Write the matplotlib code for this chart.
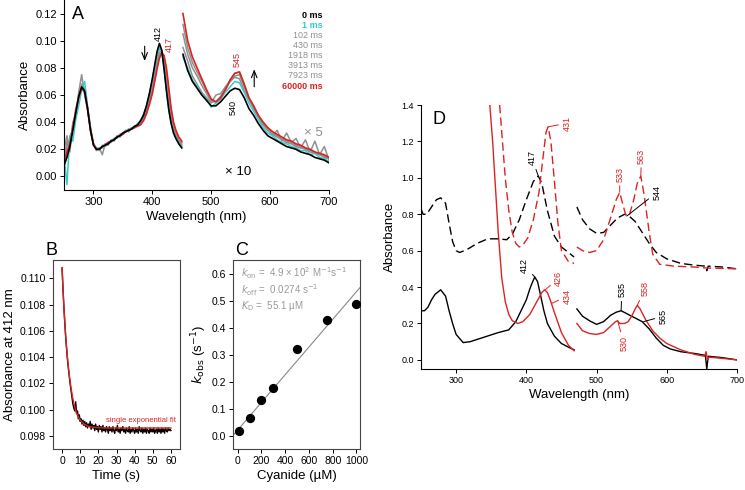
import matplotlib
matplotlib.use('Agg')
import matplotlib.pyplot as plt

# ---------------- panel A : stopped-flow spectra ----------------
WL_A_L = [250, 255, 260, 265, 270, 275, 280, 285, 290, 295, 300, 305, 310, 315, 320, 325, 330, 335,
          340, 345, 350, 355, 360, 365, 370, 375, 380, 385, 390, 395, 400, 404, 408, 412, 416, 420,
          424, 428, 432, 436, 440, 445, 450]
WL_A_R = [452, 460, 468, 476, 484, 492, 500, 508, 516, 524, 532, 540, 548, 556, 564, 572, 580, 588,
          596, 604, 612, 620, 628, 636, 644, 652, 660, 668, 676, 684, 692, 700]

A_0MS_L = [0.008, 0.014, 0.022, 0.034, 0.047, 0.059, 0.066, 0.063, 0.050, 0.034, 0.023, 0.020, 0.020,
           0.022, 0.023, 0.024, 0.026, 0.027, 0.029, 0.030, 0.032, 0.033, 0.034, 0.035, 0.037, 0.038,
           0.041, 0.045, 0.052, 0.061, 0.072, 0.082, 0.092, 0.098, 0.093, 0.079, 0.063, 0.049, 0.039,
           0.032, 0.028, 0.024, 0.021]
A_1MS_L = [0.015, -0.006, 0.030, 0.026, 0.042, 0.052, 0.064, 0.070, 0.052, 0.036, 0.024, 0.021, 0.019,
           0.023, 0.022, 0.025, 0.025, 0.028, 0.028, 0.031, 0.031, 0.034, 0.033, 0.036, 0.036, 0.039,
           0.041, 0.046, 0.052, 0.061, 0.071, 0.081, 0.090, 0.095, 0.092, 0.079, 0.063, 0.049, 0.039,
           0.032, 0.028, 0.024, 0.022]
A_G1_L = [0.020, 0.030, 0.018, 0.040, 0.045, 0.062, 0.075, 0.060, 0.049, 0.033, 0.024, 0.019, 0.021,
          0.016, 0.024, 0.023, 0.027, 0.026, 0.030, 0.029, 0.032, 0.034, 0.033, 0.036, 0.036, 0.038,
          0.041, 0.044, 0.050, 0.059, 0.069, 0.078, 0.088, 0.094, 0.093, 0.082, 0.067, 0.052, 0.041,
          0.034, 0.029, 0.025, 0.023]
A_G2_L = [0.010, 0.022, 0.028, 0.036, 0.050, 0.058, 0.068, 0.064, 0.051, 0.035, 0.023, 0.021, 0.020,
          0.022, 0.024, 0.025, 0.026, 0.028, 0.029, 0.031, 0.032, 0.033, 0.035, 0.035, 0.037, 0.038,
          0.040, 0.043, 0.048, 0.056, 0.065, 0.074, 0.084, 0.091, 0.093, 0.086, 0.073, 0.057, 0.045,
          0.037, 0.031, 0.026, 0.024]
A_G3_L = [0.012, 0.026, 0.024, 0.038, 0.046, 0.060, 0.066, 0.065, 0.050, 0.034, 0.024, 0.020, 0.021,
          0.021, 0.023, 0.025, 0.026, 0.027, 0.029, 0.030, 0.032, 0.033, 0.034, 0.035, 0.036, 0.038,
          0.039, 0.042, 0.047, 0.054, 0.062, 0.071, 0.081, 0.089, 0.092, 0.088, 0.077, 0.062, 0.048,
          0.039, 0.033, 0.027, 0.025]
A_60S_L = [0.010, 0.018, 0.024, 0.036, 0.048, 0.058, 0.065, 0.062, 0.050, 0.035, 0.024, 0.020, 0.020,
           0.022, 0.023, 0.025, 0.026, 0.027, 0.029, 0.030, 0.031, 0.033, 0.034, 0.035, 0.036, 0.037,
           0.038, 0.041, 0.046, 0.053, 0.061, 0.070, 0.079, 0.087, 0.091, 0.089, 0.080, 0.065, 0.050,
           0.040, 0.034, 0.029, 0.026]

A_0MS_R = [0.090, 0.078, 0.070, 0.065, 0.060, 0.056, 0.052, 0.052, 0.055, 0.059, 0.063, 0.065, 0.064,
           0.058, 0.050, 0.045, 0.039, 0.034, 0.030, 0.028, 0.026, 0.024, 0.022, 0.021, 0.020, 0.018,
           0.017, 0.016, 0.014, 0.013, 0.012, 0.010]
A_1MS_R = [0.088, 0.080, 0.071, 0.066, 0.060, 0.057, 0.051, 0.054, 0.057, 0.062, 0.066, 0.070, 0.069,
           0.062, 0.054, 0.048, 0.042, 0.036, 0.032, 0.030, 0.027, 0.025, 0.024, 0.022, 0.021, 0.019,
           0.019, 0.016, 0.017, 0.014, 0.013, 0.011]
A_G1_R = [0.095, 0.085, 0.074, 0.068, 0.062, 0.058, 0.054, 0.060, 0.061, 0.066, 0.070, 0.073, 0.072,
          0.063, 0.057, 0.051, 0.045, 0.038, 0.036, 0.030, 0.034, 0.026, 0.032, 0.025, 0.028, 0.021,
          0.027, 0.018, 0.026, 0.016, 0.022, 0.012]
A_G2_R = [0.105, 0.090, 0.080, 0.074, 0.067, 0.061, 0.055, 0.055, 0.059, 0.064, 0.070, 0.074, 0.075,
          0.066, 0.057, 0.050, 0.044, 0.038, 0.034, 0.031, 0.029, 0.027, 0.025, 0.024, 0.022, 0.021,
          0.020, 0.018, 0.017, 0.016, 0.014, 0.013]
A_G3_R = [0.112, 0.095, 0.084, 0.077, 0.070, 0.063, 0.056, 0.055, 0.058, 0.064, 0.071, 0.076, 0.077,
          0.068, 0.058, 0.052, 0.045, 0.040, 0.036, 0.032, 0.030, 0.028, 0.026, 0.025, 0.023, 0.022,
          0.021, 0.019, 0.018, 0.016, 0.015, 0.013]
A_60S_R = [0.120, 0.100, 0.088, 0.080, 0.072, 0.064, 0.057, 0.055, 0.058, 0.064, 0.071, 0.076, 0.077,
           0.068, 0.058, 0.052, 0.045, 0.040, 0.036, 0.033, 0.031, 0.029, 0.027, 0.026, 0.024, 0.023,
           0.021, 0.020, 0.018, 0.017, 0.016, 0.014]

LEGEND_A = ['0 ms', '1 ms', '102 ms', '430 ms', '1918 ms', '3913 ms', '7923 ms', '60000 ms']
LEGEND_COLORS = ['black', '#33cccc', '#909090', '#909090', '#909090', '#909090', '#909090', '#dd2222']

# ---------------- panel B : trace at 412 nm ----------------
TIME_B = [i * 0.5 for i in range(121)]
ABS_B = [0.1108, 0.1092, 0.1078, 0.1066, 0.1055, 0.1046, 0.1038, 0.1031, 0.1025, 0.1019,
         0.1014, 0.1009, 0.1004, 0.1001, 0.0999, 0.1006, 0.0997, 0.0999, 0.0993, 0.0996,
         0.0991, 0.0993, 0.0989, 0.0992, 0.0988, 0.0991, 0.0987, 0.0990, 0.0986, 0.0989,
         0.0987, 0.0991, 0.0985, 0.0989, 0.0986, 0.0988, 0.0984, 0.0989, 0.0985, 0.0987,
         0.0983, 0.0988, 0.0985, 0.0987, 0.0983, 0.0988, 0.0984, 0.0986, 0.0983, 0.0987,
         0.0985, 0.0982, 0.0987, 0.0984, 0.0986, 0.0983, 0.0987, 0.0984, 0.0982, 0.0986,
         0.0984, 0.0988, 0.0983, 0.0985, 0.0982, 0.0986, 0.0984, 0.0987, 0.0983, 0.0985,
         0.0982, 0.0986, 0.0984, 0.0983, 0.0987, 0.0982, 0.0985, 0.0983, 0.0986, 0.0984,
         0.0982, 0.0986, 0.0983, 0.0985, 0.0982, 0.0987, 0.0984, 0.0983, 0.0986, 0.0982,
         0.0985, 0.0983, 0.0986, 0.0982, 0.0985, 0.0984, 0.0982, 0.0986, 0.0983, 0.0985,
         0.0983, 0.0986, 0.0982, 0.0984, 0.0985, 0.0982, 0.0986, 0.0983, 0.0985, 0.0982,
         0.0986, 0.0983, 0.0985, 0.0982, 0.0986, 0.0984, 0.0983, 0.0986, 0.0984, 0.0985,
         0.0984]
FIT_T = [0, 1, 2, 3, 4, 5, 6, 7, 8, 10, 12, 15, 20, 25, 30, 40, 50, 60]
FIT_B = [0.1108, 0.1078, 0.1056, 0.1039, 0.1026, 0.1016, 0.1008, 0.1002, 0.0997, 0.0992, 0.0989,
         0.0987, 0.09862, 0.0986, 0.0986, 0.0986, 0.0986, 0.0986]

# ---------------- panel C : kobs vs cyanide ----------------
CYANIDE = [10, 100, 200, 300, 500, 750, 1000]
KOBS = [0.015, 0.063, 0.130, 0.175, 0.322, 0.427, 0.487]
LINE_X = [-40, 1030]
LINE_Y = [0.0, 0.548]

# ---------------- panel D : static spectra ----------------
D_BLK_L_X = [250, 255, 260, 265, 270, 278, 285, 290, 295, 300, 310, 320, 340, 360, 375, 385, 395,
             400, 405, 408, 412, 416, 420, 425, 430, 440, 450, 460, 468]
D_BLK_L_Y = [0.27, 0.27, 0.29, 0.33, 0.36, 0.385, 0.35, 0.27, 0.2, 0.14, 0.095, 0.1, 0.125, 0.15,
             0.165, 0.21, 0.29, 0.33, 0.39, 0.42, 0.455, 0.43, 0.36, 0.27, 0.2, 0.13, 0.09, 0.07, 0.055]
D_BLK_R_X = [472, 480, 490, 500, 510, 520, 528, 535, 545, 555, 565, 575, 585, 595, 605, 620, 640,
             655, 657, 659, 680, 700]
D_BLK_R_Y = [0.28, 0.24, 0.215, 0.195, 0.21, 0.245, 0.262, 0.27, 0.25, 0.23, 0.21, 0.17, 0.12, 0.08,
             0.06, 0.045, 0.035, 0.025, -0.05, 0.02, 0.012, 0.0]
D_RED_L_X = [348, 352, 356, 360, 365, 370, 375, 380, 388, 395, 405, 415, 422, 426, 430, 434, 440,
             450, 460, 468]
D_RED_L_Y = [1.4, 1.2, 0.95, 0.7, 0.45, 0.32, 0.25, 0.215, 0.2, 0.21, 0.25, 0.32, 0.37, 0.385,
             0.37, 0.33, 0.26, 0.15, 0.08, 0.05]
D_RED_R_X = [472, 480, 490, 500, 510, 520, 527, 530, 533, 540, 545, 550, 555, 558, 562, 570, 580,
             590, 600, 620, 640, 654, 656, 658, 660, 680, 700]
D_RED_R_Y = [0.2, 0.16, 0.145, 0.14, 0.15, 0.185, 0.21, 0.215, 0.2, 0.2, 0.21, 0.24, 0.28, 0.3, 0.28,
             0.22, 0.16, 0.12, 0.09, 0.055, 0.03, 0.02, 0.045, 0.0, 0.015, 0.008, 0.0]
D_BLKD_L_X = [250, 253, 258, 265, 272, 278, 285, 290, 295, 300, 305, 315, 330, 345, 360, 372, 380,
              390, 400, 410, 417, 422, 430, 440, 450, 460, 468]
D_BLKD_L_Y = [0.83, 0.8, 0.8, 0.84, 0.88, 0.89, 0.86, 0.75, 0.65, 0.6, 0.59, 0.605, 0.64, 0.665,
              0.665, 0.66, 0.69, 0.77, 0.88, 0.98, 1.01, 0.97, 0.82, 0.68, 0.62, 0.59, 0.565]
D_BLKD_R_X = [472, 480, 490, 500, 510, 520, 530, 540, 545, 555, 565, 575, 585, 600, 620, 640, 655,
              657, 659, 680, 700]
D_BLKD_R_Y = [0.84, 0.77, 0.72, 0.695, 0.7, 0.74, 0.78, 0.8, 0.795, 0.76, 0.7, 0.64, 0.59, 0.555,
              0.53, 0.52, 0.515, 0.49, 0.515, 0.51, 0.5]
D_REDD_L_X = [362, 366, 370, 375, 380, 385, 390, 395, 402, 410, 418, 424, 428, 431, 435, 440, 445,
              450, 460, 468]
D_REDD_L_Y = [1.4, 1.2, 1.0, 0.82, 0.7, 0.64, 0.62, 0.63, 0.67, 0.77, 0.92, 1.12, 1.25, 1.28, 1.2,
              0.98, 0.75, 0.6, 0.54, 0.53]
D_REDD_R_X = [472, 480, 490, 500, 510, 520, 528, 533, 537, 542, 547, 553, 558, 563, 568, 575, 580,
              590, 610, 640, 655, 700]
D_REDD_R_Y = [0.62, 0.6, 0.59, 0.6, 0.66, 0.78, 0.88, 0.92, 0.86, 0.79, 0.8, 0.88, 0.97, 1.01, 0.9,
              0.7, 0.58, 0.525, 0.515, 0.51, 0.505, 0.5]

# peak labels: (text, colour, peak x, peak y, text x, text y)
D_PEAKS = [('431', 'red', 431, 1.28, 458, 1.30),
           ('417', 'black', 417, 1.01, 408, 1.11),
           ('533', 'red', 533, 0.92, 533, 1.02),
           ('563', 'red', 563, 1.01, 564, 1.12),
           ('544', 'black', 543, 0.79, 586, 0.92),
           ('412', 'black', 412, 0.455, 397, 0.52),
           ('426', 'red', 427, 0.385, 446, 0.45),
           ('434', 'red', 436, 0.31, 458, 0.35),
           ('535', 'black', 535, 0.27, 536, 0.385),
           ('558', 'red', 558, 0.30, 569, 0.39),
           ('565', 'black', 567, 0.21, 595, 0.24),
           ('530', 'red', 530, 0.215, 539, 0.09)]

RED = '#dd2222'
CYAN = '#33cccc'
GRAY = '#909090'

plt.rcParams['font.family'] = ['Liberation Sans', 'DejaVu Sans']
fig = plt.figure(figsize=(7.45, 4.9), dpi=100)


def style_ticks(ax, size):
    ax.tick_params(direction='out', length=3, width=0.7, labelsize=size, pad=2)
    for s in ax.spines.values():
        s.set_linewidth(0.8)


# ---- A ----
axA = fig.add_axes([64 / 745, 1 - 190 / 490, 265 / 745, 190 / 490])
for yl, yr in [(A_G1_L, A_G1_R), (A_G2_L, A_G2_R), (A_G3_L, A_G3_R)]:
    axA.plot(WL_A_L, yl, color=GRAY, lw=1.1)
    axA.plot(WL_A_R, yr, color=GRAY, lw=1.1)
axA.plot(WL_A_L, A_1MS_L, color=CYAN, lw=1.1)
axA.plot(WL_A_R, A_1MS_R, color=CYAN, lw=1.1)
axA.plot(WL_A_L, A_60S_L, color=RED, lw=1.2)
axA.plot(WL_A_R, A_60S_R, color=RED, lw=1.2)
axA.plot(WL_A_L, A_0MS_L, color='black', lw=1.2)
axA.plot(WL_A_R, A_0MS_R, color='black', lw=1.2)
axA.set_xlim(250, 700)
axA.set_ylim(-0.01, 0.13)
axA.set_xticks([300, 400, 500, 600, 700])
axA.set_yticks([0.0, 0.02, 0.04, 0.06, 0.08, 0.10, 0.12])
axA.set_yticklabels(['0.00', '0.02', '0.04', '0.06', '0.08', '0.10', '0.12'])
axA.spines['top'].set_visible(False)
axA.spines['right'].set_visible(False)
style_ticks(axA, 8)
axA.set_xlabel('Wavelength (nm)', fontsize=9.5, labelpad=3)
axA.set_ylabel('Absorbance', fontsize=9.5, labelpad=3)
axA.text(273, 0.119, 'A', fontsize=13, ha='center', va='center')
axA.annotate('', xy=(387, 0.083), xytext=(387, 0.098),
             arrowprops=dict(arrowstyle='->,head_length=0.5,head_width=0.2', color='black', lw=0.8))
axA.annotate('', xy=(573, 0.081), xytext=(573, 0.064),
             arrowprops=dict(arrowstyle='->,head_length=0.5,head_width=0.2', color='black', lw=0.8))
axA.text(410, 0.1055, '412', rotation=90, fontsize=6.5, ha='center', va='center')
axA.text(428, 0.0975, '417', rotation=90, fontsize=6.5, ha='center', va='center', color=RED)
axA.text(544, 0.086, '545', rotation=90, fontsize=6.5, ha='center', va='center', color=RED)
axA.text(537, 0.0505, '540', rotation=90, fontsize=6.5, ha='center', va='center')
axA.text(673, 0.032, '× 5', fontsize=9.5, ha='center', va='center', color=GRAY)
axA.text(546, 0.0035, '× 10', fontsize=9.5, ha='center', va='center')
for i, (lab, col) in enumerate(zip(LEGEND_A, LEGEND_COLORS)):
    bold = col != GRAY
    axA.text(0.975, 0.921 - i * 0.0535, lab, transform=axA.transAxes, ha='right', va='center',
             fontsize=6.5, color=col, fontweight='bold' if bold else 'normal')

# ---- B ----
axB = fig.add_axes([53 / 745, 1 - 449 / 490, 127 / 745, 189 / 490])
axB.plot(TIME_B, ABS_B, color='black', lw=1.0)
axB.plot(FIT_T, FIT_B, color=RED, lw=1.0)
axB.set_xlim(-5, 65)
axB.set_ylim(0.097, 0.1114)
axB.set_xticks([0, 10, 20, 30, 40, 50, 60])
axB.set_yticks([0.098, 0.100, 0.102, 0.104, 0.106, 0.108, 0.110])
axB.set_yticklabels(['0.098', '0.100', '0.102', '0.104', '0.106', '0.108', '0.110'])
style_ticks(axB, 7.5)
for s in axB.spines.values():
    s.set_color('#444444')
axB.set_xlabel('Time (s)', fontsize=9.5, labelpad=3)
axB.set_ylabel('Absorbance at 412 nm', fontsize=9.5, labelpad=3)
axB.text(43.5, 0.09915, 'single exponential fit', fontsize=5.5, color=RED, ha='center', va='center')
fig.text(52 / 745, 1 - 250 / 490, 'B', fontsize=13, ha='center', va='center')

# ---- C ----
axC = fig.add_axes([233 / 745, 1 - 449 / 490, 127 / 745, 189 / 490])
axC.plot(LINE_X, LINE_Y, color='#888888', lw=0.8)
axC.scatter(CYANIDE, KOBS, s=32, color='black', zorder=3)
axC.set_xlim(-40, 1030)
axC.set_ylim(-0.05, 0.65)
axC.set_xticks([0, 200, 400, 600, 800, 1000])
axC.set_yticks([0.0, 0.1, 0.2, 0.3, 0.4, 0.5, 0.6])
axC.set_yticklabels(['0.0', '0.1', '0.2', '0.3', '0.4', '0.5', '0.6'])
style_ticks(axC, 7.5)
for s in axC.spines.values():
    s.set_color('#444444')
axC.set_xlabel('Cyanide (µM)', fontsize=9.5, labelpad=3)
axC.set_ylabel(r'$k_{\rm obs}$ (s$^{-1}$)', fontsize=9.5, labelpad=2)
ctxt = [r'$k_{\rm on}$ =  4.9 × 10$^{2}$ M$^{-1}$s$^{-1}$',
        r'$k_{\rm off}$ =  0.0274 s$^{-1}$',
        r'$K_{\rm D}$ =  55.1 µM']
for i, t in enumerate(ctxt):
    axC.text(0.06, 0.93 - i * 0.088, t, transform=axC.transAxes, fontsize=7, color='#999999',
             ha='left', va='center')
fig.text(242 / 745, 1 - 250 / 490, 'C', fontsize=13, ha='center', va='center')

# ---- D ----
axD = fig.add_axes([421 / 745, 1 - 369 / 490, 316 / 745, 264 / 490])
axD.plot(D_BLK_L_X, D_BLK_L_Y, color='black', lw=1.0)
axD.plot(D_BLK_R_X, D_BLK_R_Y, color='black', lw=1.0)
axD.plot(D_RED_L_X, D_RED_L_Y, color=RED, lw=1.0)
axD.plot(D_RED_R_X, D_RED_R_Y, color=RED, lw=1.0)
axD.plot(D_BLKD_L_X, D_BLKD_L_Y, color='black', lw=1.0, ls=(0, (6, 3)))
axD.plot(D_BLKD_R_X, D_BLKD_R_Y, color='black', lw=1.0, ls=(0, (6, 3)))
axD.plot(D_REDD_L_X, D_REDD_L_Y, color=RED, lw=1.0, ls=(0, (6, 3)))
axD.plot(D_REDD_R_X, D_REDD_R_Y, color=RED, lw=1.0, ls=(0, (6, 3)))
axD.set_xlim(250, 700)
axD.set_ylim(-0.05, 1.4)
axD.set_xticks([300, 400, 500, 600, 700])
axD.set_yticks([0.0, 0.2, 0.4, 0.6, 0.8, 1.0, 1.2, 1.4])
axD.set_yticklabels(['0.0', '0.2', '0.4', '0.6', '0.8', '1.0', '1.2', '1.4'])
axD.spines['top'].set_visible(False)
axD.spines['right'].set_visible(False)
style_ticks(axD, 6.5)
axD.set_xlabel('Wavelength (nm)', fontsize=9.5, labelpad=3)
axD.set_ylabel('Absorbance', fontsize=9.5, labelpad=4)
axD.text(275, 1.32, 'D', fontsize=13, ha='center', va='center')
for lab, col, px, py, tx, ty in D_PEAKS:
    c = RED if col == 'red' else 'black'
    axD.annotate(lab, xy=(px, py), xytext=(tx, ty), rotation=90, fontsize=6.5, color=c,
                 ha='center', va='center',
                 arrowprops=dict(arrowstyle='-', color=c, lw=0.7, shrinkA=1, shrinkB=0))

fig.savefig('out.png', dpi=100)
